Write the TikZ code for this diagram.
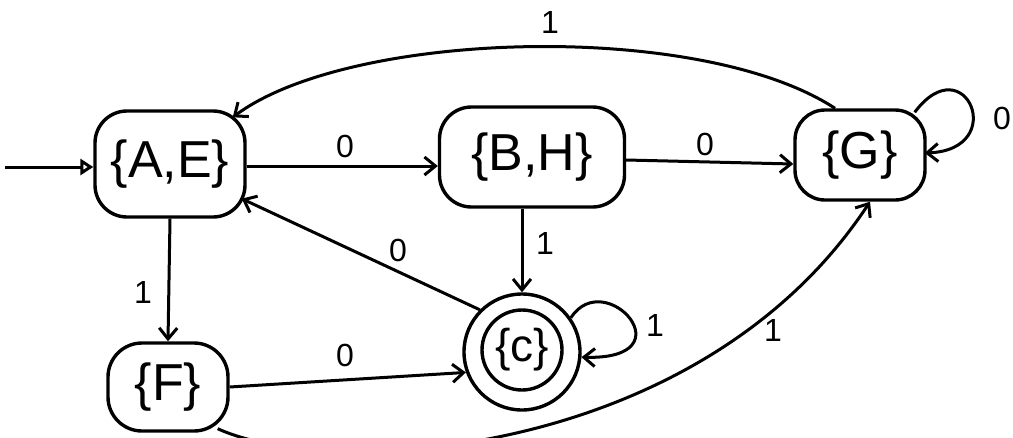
\documentclass[tikz,border=0pt]{standalone}
\usepackage{fontspec}
\setmainfont{Liberation Sans}
\usetikzlibrary{arrows.meta,calc}
\begin{document}
\begin{tikzpicture}[x=1pt,y=-1pt,
  state/.style={draw,line width=3.4pt,rounded corners=32pt,inner sep=0pt,font=\fontsize{52}{56}\selectfont},
  lbl/.style={font=\fontsize{32}{34}\selectfont,inner sep=0pt},
  edge/.style={line width=3pt,-{Straight Barb[length=11pt,width=18pt,line width=3pt]}}]
\useasboundingbox (0,0) rectangle (1013,437);
\node[state,minimum width=150pt,minimum height=106pt] (AE) at (170,164) {\{A,E\}};
\node[state,minimum width=185pt,minimum height=100pt] (BH) at (532,157) {\{B,H\}};
\node[state,minimum width=130pt,minimum height=90pt,rounded corners=30pt] (G) at (860,155) {\{G\}};
\node[state,minimum width=120pt,minimum height=88pt,rounded corners=34pt] (F) at (168,387) {\{F\}};
\node[draw,circle,line width=3.4pt,minimum size=116pt,inner sep=0pt] (C) at (522,352) {};
\node[draw,circle,line width=3.4pt,minimum size=80pt,inner sep=0pt,font=\fontsize{46}{50}\selectfont] (Cin) at (522,350) {\{c\}};
\coordinate (s) at (5,167);
\draw[line width=3pt,-{Triangle[open,length=13pt,width=16pt,line width=3pt]}] (s) -- (AE.west |- s);
\draw[edge] ($(AE.east)+(0,2)$) -- ($(BH.west |- AE.east)+(0,2)$);
\draw[edge] ($(BH.east)+(0,3)$) -- ($(G.west)+(0,9)$);
\draw[edge] ($(G.north east)+(-12,4)$) .. controls (965,45) and (1010,150) .. ($(G.east)+(-2,-2)$);
\draw[edge] ($(G.north)+(-25,0)$) .. controls (700,20) and (350,30) .. ($(AE.north east)+(-14,8)$);
\draw[edge] (AE.south) -- (F.north);
\draw[edge] (C.north |- BH.south) -- (C.north);
\draw[edge] (C.135) -- ($(AE.south east)+(-5,-20)$);
\draw[edge] (C.35) .. controls (605,265) and (690,360) .. (C.-5);
\draw[edge] (F.east) -- (C.200);
\draw[edge] ($(F.south east)+(-12,-4)$) .. controls (330,480) and (700,460) .. ($(G.south)+(10,0)$);
\node[lbl] (l1) at (550,22) {1};
\node[lbl] (l2) at (345,146) {0};
\node[lbl] (l3) at (705,144) {0};
\node[lbl] (l4) at (1002,118) {0};
\node[lbl] (l5) at (143,292) {1};
\node[lbl] (l6) at (545,243) {1};
\node[lbl] (l7) at (398,250) {0};
\node[lbl] (l8) at (655,325) {1};
\node[lbl] (l9) at (345,355) {0};
\node[lbl] (l10) at (773,330) {1};
\end{tikzpicture}
\end{document}
